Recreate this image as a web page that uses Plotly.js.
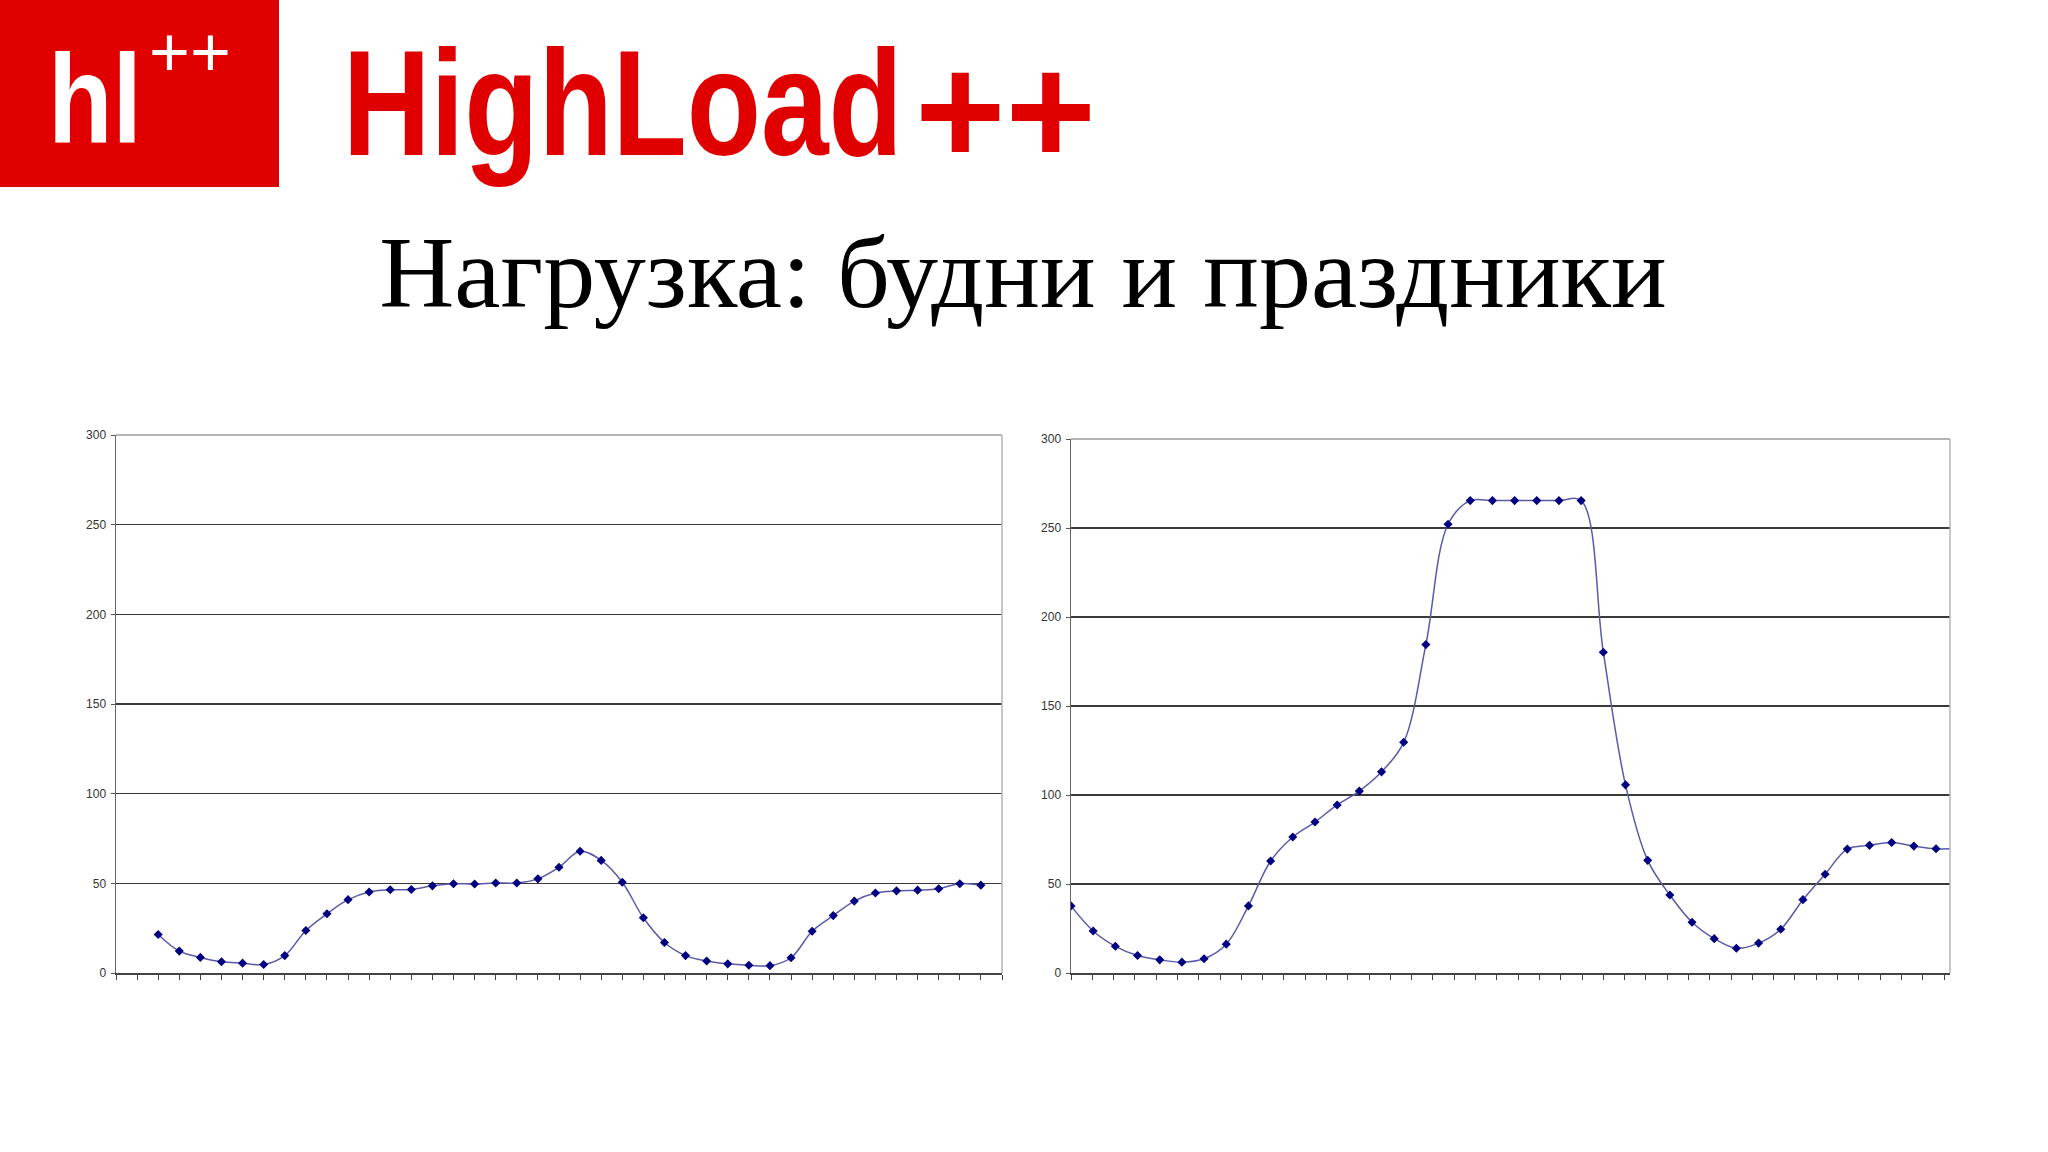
<!DOCTYPE html>
<html>
<head>
<meta charset="utf-8">
<script src="https://cdn.plot.ly/plotly-3.0.1.min.js"></script>
<style>
  html, body { margin: 0; padding: 0; background: #ffffff; }
  #chart { width: 2048px; height: 1152px; }
</style>
</head>
<body>
<div id="chart"></div>
<script>
// ---- Data ----
const slideTitle = 'Нагрузка: будни и праздники';
const brandName = 'HighLoad';
const brandPlus = '++';
const logoText = 'hl';
const logoPlus = '++';

// Weekday load (left chart), 40 slots starting at slot 2
const weekdayLoad = [21.5, 12.2, 8.7, 6.3, 5.5, 4.7, 9.7, 23.7, 33.0, 40.9,
                     45.2, 46.4, 46.6, 48.6, 49.8, 49.6, 50.2, 50.2, 52.5, 59.0,
                     67.9, 62.8, 50.6, 30.8, 17.0, 9.7, 6.7, 5.1, 4.3, 4.1,
                     8.5, 23.3, 32.0, 40.1, 44.6, 45.8, 46.2, 47.0, 49.8, 49.0];
const weekdayFirstSlot = 2;

// Holiday load (right chart), slots starting at 0 (the last one is cut by the frame)
const holidayLoad = [37.7, 23.6, 15.0, 9.8, 7.4, 6.1, 8.0, 16.2, 37.7, 62.9,
                     76.4, 84.8, 94.4, 102.2, 113.0, 129.6, 184.5, 252.1, 265.4, 265.4,
                     265.4, 265.4, 265.4, 265.4, 180.2, 105.7, 63.3, 43.8, 28.5, 19.3,
                     13.9, 16.8, 24.6, 41.2, 55.5, 69.6, 71.7, 73.3, 71.3, 69.8, 70.0];
const holidayFirstSlot = 0;

const yTickValues = [0, 50, 100, 150, 200, 250, 300];
const yTickLabels = ['0', '50', '100', '150', '200', '250', '300'];

// ---- Build ----
const weekdaySlots = weekdayLoad.map((_, i) => i + weekdayFirstSlot);
const holidaySlots = holidayLoad.map((_, i) => i + holidayFirstSlot);

const lineStyle = { color: '#5a5aa8', width: 1.5, shape: 'spline', smoothing: 1 };
const markerStyle = { symbol: 'diamond', size: 7, color: '#000080', line: { width: 0 } };

const traces = [
  { x: weekdaySlots, y: weekdayLoad, xaxis: 'x', yaxis: 'y', type: 'scatter',
    mode: 'lines+markers', line: lineStyle, marker: markerStyle, showlegend: false, hoverinfo: 'y' },
  { x: holidaySlots, y: holidayLoad, xaxis: 'x2', yaxis: 'y2', type: 'scatter',
    mode: 'lines+markers', line: lineStyle, marker: markerStyle, showlegend: false, hoverinfo: 'y' }
];

const W = 2048, H = 1152;
const px = v => v / W;
const py = v => 1 - v / H;

function xAxis(domain, range, dtick, anchor) {
  return {
    domain: domain, range: range, anchor: anchor,
    tick0: 0, dtick: dtick, ticks: 'outside', ticklen: 5, tickwidth: 1, tickcolor: '#444',
    showticklabels: false, showgrid: false, zeroline: false,
    showline: true, linecolor: '#444', linewidth: 1.5, fixedrange: true
  };
}
function yAxis(domain, anchor) {
  return {
    domain: domain, range: [0, 300], anchor: anchor,
    tickmode: 'array', tickvals: yTickValues, ticktext: yTickLabels,
    ticks: 'outside', ticklen: 4, tickwidth: 1, tickcolor: '#555',
    tickfont: { family: 'Liberation Sans, Arial, sans-serif', size: 12, color: '#333' },
    ticklabelstandoff: 2,
    showgrid: true, gridcolor: '#3a3a3a', gridwidth: 1.5,
    zeroline: false, showline: true, linecolor: '#666', linewidth: 1.5, fixedrange: true
  };
}

const borderColor = '#b4b4b4';
function frame(xr, yr) {
  return [
    { type: 'line', xref: xr + ' domain', yref: yr + ' domain', x0: 0, x1: 1, y0: 1, y1: 1,
      line: { color: borderColor, width: 2 }, layer: 'above' },
    { type: 'line', xref: xr + ' domain', yref: yr + ' domain', x0: 1, x1: 1, y0: 0, y1: 1,
      line: { color: borderColor, width: 1.5 }, layer: 'above' }
  ];
}

const sansBold = { family: 'Liberation Sans, Arial, sans-serif', weight: 'bold' };

const layout = {
  width: W, height: H, autosize: false,
  margin: { l: 0, r: 0, t: 0, b: 0, pad: 0 },
  paper_bgcolor: '#ffffff', plot_bgcolor: '#ffffff',
  showlegend: false,
  title: {
    text: slideTitle, x: px(1023), xanchor: 'center', y: py(272), yanchor: 'middle',
    font: { family: 'Liberation Serif, Times New Roman, serif', size: 101, color: '#000000' }
  },
  xaxis: xAxis([px(116), px(1002)], [0, 42], 1, 'y'),
  yaxis: yAxis([py(973), py(435)], 'x'),
  xaxis2: xAxis([px(1071), px(1950)], [0, 39.63], 0.96, 'y2'),
  yaxis2: yAxis([py(973), py(439)], 'x2'),
  shapes: [
    { type: 'rect', xref: 'paper', yref: 'paper', x0: 0, x1: px(279), y0: py(187), y1: 1,
      fillcolor: '#e10000', line: { width: 0 }, layer: 'below' }
  ].concat(frame('x', 'y'), frame('x2', 'y2')),
  annotations: [
    { text: logoText, xref: 'paper', yref: 'paper', x: px(95), y: py(99),
      xanchor: 'center', yanchor: 'middle', showarrow: false, borderpad: 0,
      font: Object.assign({ size: 126, color: '#ffffff' }, sansBold) },
    { text: logoPlus, xref: 'paper', yref: 'paper', x: px(190), y: py(52),
      xanchor: 'center', yanchor: 'middle', showarrow: false, borderpad: 0,
      font: { family: 'Liberation Sans, Arial, sans-serif', size: 70, color: '#ffffff' } },
    { text: brandName, xref: 'paper', yref: 'paper', x: px(623), y: py(103),
      xanchor: 'center', yanchor: 'middle', showarrow: false, borderpad: 0,
      font: Object.assign({ size: 150, color: '#e10000' }, sansBold) },
    { text: brandPlus, xref: 'paper', yref: 'paper', x: px(1005), y: py(111),
      xanchor: 'center', yanchor: 'middle', showarrow: false, borderpad: 0,
      font: Object.assign({ size: 155, color: '#e10000' }, sansBold) }
  ]
};

// horizontal condensing / stretching of lettering (kept as real text)
const annotationScale = { 0: 0.84, 2: 0.81 };
const titleScale = 1.03;

function scaleX(el, f) {
  const b = el.getBBox();
  const cx = b.x + b.width / 2;
  const prev = el.getAttribute('transform') || '';
  el.setAttribute('transform', 'matrix(' + f + ',0,0,1,' + (cx * (1 - f)).toFixed(2) + ',0) ' + prev);
}

Plotly.newPlot('chart', traces, layout, { staticPlot: true, displayModeBar: false }).then(function (gd) {
  const groups = gd.querySelectorAll('g.annotation');
  Object.keys(annotationScale).forEach(function (k) {
    const g = groups[+k];
    if (!g) return;
    const t = g.querySelector('.annotation-text');
    if (t) scaleX(t, annotationScale[k]);
    const r = g.querySelector('rect.bg');
    if (r) scaleX(r, annotationScale[k]);
  });
  const title = gd.querySelector('.gtitle');
  if (title) scaleX(title, titleScale);
});
</script>
</body>
</html>
